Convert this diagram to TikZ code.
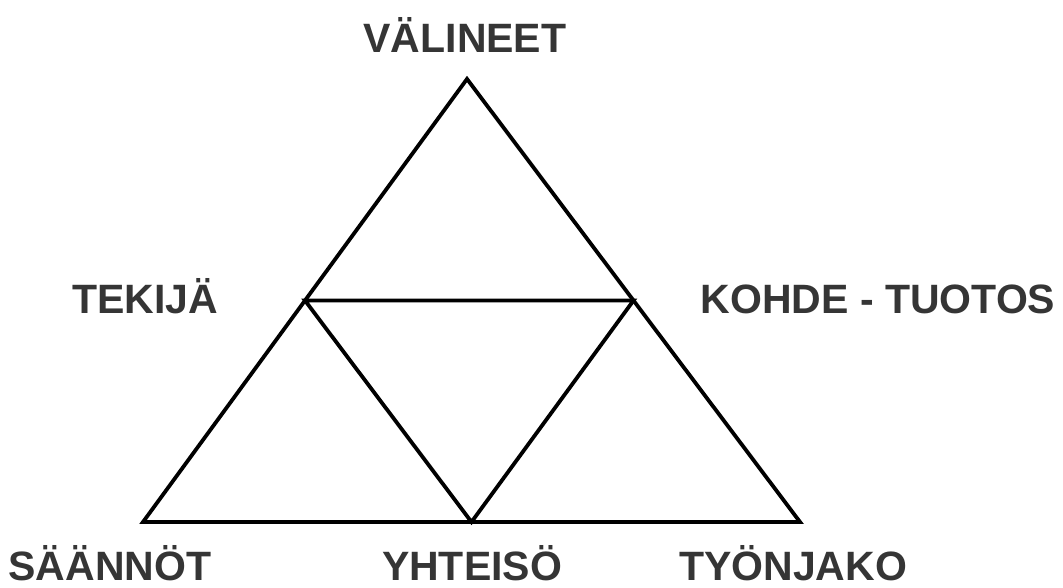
\documentclass[tikz,border=0pt]{standalone}
\usepackage{fontspec}
\setmainfont{Liberation Sans}
\usetikzlibrary{calc}
\definecolor{txt}{HTML}{353535}
\begin{document}
\begin{tikzpicture}[x=1pt,y=-1pt,
  lbl/.style={font=\fontsize{41}{44}\selectfont\bfseries, text=txt, inner sep=0pt, anchor=base},
  edge/.style={line width=3.8pt, line join=miter, black}]
\useasboundingbox (0,0) rectangle (1063,588);
\coordinate (T) at (467,79);
\coordinate (L) at (143,522);
\coordinate (R) at (800,522);
\coordinate (ML) at ($(T)!0.5!(L)$);
\coordinate (MR) at ($(T)!0.5!(R)$);
\coordinate (MB) at ($(L)!0.5!(R)$);
\draw[edge] (T) -- (L) -- (R) -- cycle;
\draw[edge] (ML) -- (MR) -- (MB) -- cycle;
\node[lbl] (v) at (465,53) {VÄLINEET};
\node[lbl] (t) at (145,313) {TEKIJÄ};
\node[lbl] (k) at (878,313) {KOHDE - TUOTOS};
\node[lbl] (s) at (110,580) {SÄÄNNÖT};
\node[lbl] (y) at (472,580) {YHTEISÖ};
\node[lbl] (j) at (793,580) {TYÖNJAKO};
\end{tikzpicture}
\end{document}
